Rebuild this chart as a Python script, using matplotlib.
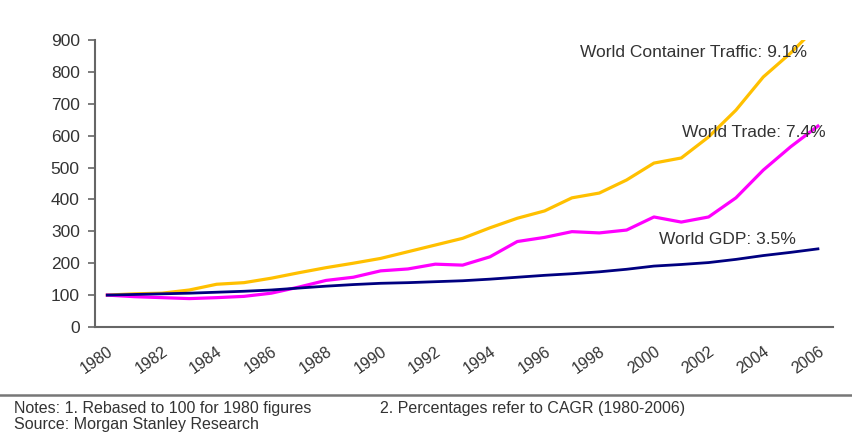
import numpy as np
import matplotlib
matplotlib.use("Agg")
import matplotlib.pyplot as plt
from matplotlib.lines import Line2D

plt.rcParams['font.family'] = ['Liberation Sans', 'DejaVu Sans']

years = list(range(1980, 2007))
tick_years = list(range(1980, 2007, 2))
y_ticks = [0, 100, 200, 300, 400, 500, 600, 700, 800, 900]

# Indexed series, 1980 = 100
container_traffic = [100, 104, 106, 116, 134, 139, 153, 170, 186, 200, 215, 236, 257, 278,
                     311, 341, 364, 405, 420, 461, 514, 530, 596, 680, 784, 859, 945]
world_trade = [100, 95, 92, 89, 92, 96, 106, 125, 146, 156, 176, 182, 197, 194,
               220, 268, 281, 299, 295, 304, 345, 329, 345, 405, 492, 565, 630]
world_gdp = [100, 102, 104, 106, 109, 112, 116, 122, 128, 133, 137, 139, 142, 145,
             150, 156, 162, 167, 173, 181, 191, 196, 202, 212, 224, 234, 245]

labels = ["World Container Traffic: 9.1%", "World Trade: 7.4%", "World GDP: 3.5%"]
note_1 = "Notes: 1. Rebased to 100 for 1980 figures"
note_2 = "2. Percentages refer to CAGR (1980-2006)"
source = "Source: Morgan Stanley Research"

txt = '#333333'
axis_col = '#666666'

fig = plt.figure(figsize=(8.53, 4.32), dpi=100)
ax = fig.add_axes([0.1114, 0.2431, 0.8651, 0.6643])

ax.plot(years, container_traffic, color='#FFC000', lw=2.3, solid_joinstyle='round')
ax.plot(years, world_trade, color='#FF00FF', lw=2.3, solid_joinstyle='round')
ax.plot(years, world_gdp, color='#000080', lw=2.0, solid_joinstyle='round')

ax.set_xlim(1979.55, 2006.55)
ax.set_ylim(0, 900)
ax.set_yticks(y_ticks)
ax.set_xticks(tick_years)
ax.set_xticklabels([str(y) for y in tick_years], rotation=35, ha='right', va='top',
                   rotation_mode='anchor')

for side in ['top', 'right']:
    ax.spines[side].set_visible(False)
for side in ['left', 'bottom']:
    ax.spines[side].set_color(axis_col)
    ax.spines[side].set_linewidth(1.5)

ax.tick_params(axis='y', direction='out', length=5, width=1.2, color=axis_col,
               labelsize=12.5, labelcolor=txt, pad=6)
ax.tick_params(axis='x', length=0, labelsize=11.5, labelcolor=txt, pad=12)

# Series labels with CAGR
ax.text(2005.6, 862, labels[0], ha='right', va='center', fontsize=12.5, color=txt)
ax.text(2006.3, 611, labels[1], ha='right', va='center', fontsize=12.5, color=txt)
ax.text(2005.2, 273, labels[2], ha='right', va='center', fontsize=12.5, color=txt)

# Separator line and footnotes
fig.add_artist(Line2D([0, 1], [1 - 395 / 432, 1 - 395 / 432], transform=fig.transFigure,
                      color='#777777', lw=1.8))
fig.text(14 / 853, 1 - 408 / 432, note_1, ha='left', va='center', fontsize=11.5, color=txt)
fig.text(380 / 853, 1 - 408 / 432, note_2, ha='left', va='center', fontsize=11.5, color=txt)
fig.text(14 / 853, 1 - 424 / 432, source, ha='left', va='center', fontsize=11.5, color=txt)

fig.savefig('out.png', dpi=100)
